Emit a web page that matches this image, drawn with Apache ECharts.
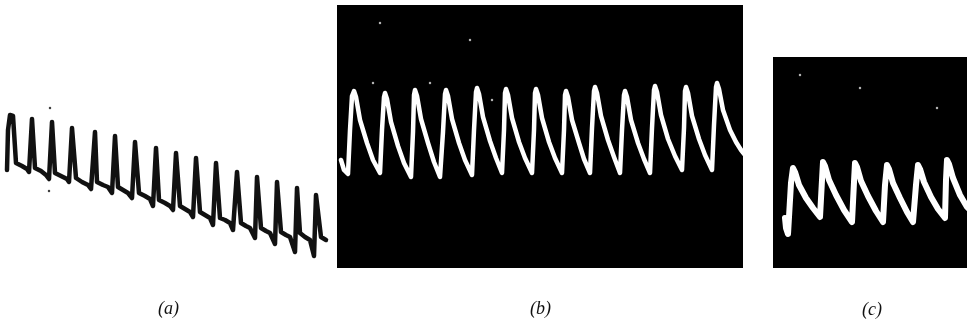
<!DOCTYPE html>
<html>
<head>
<meta charset="utf-8">
<script src="https://cdn.jsdelivr.net/npm/echarts@6/dist/echarts.min.js"></script>
<style>
  html, body { margin: 0; padding: 0; background: #fff; }
  #chart { width: 978px; height: 326px; }
</style>
</head>
<body>
<div id="chart"></div>
<script>
// traces, in picture units (x = time, y = deflection, downward)
const traceA = [
  [7,170],[8,130],[10,115],[13,116],[16,163],[22,166],[27,169],[29,172],
  [32,119],[35,168],[41,171],[46,175],[49,179],
  [52,122],[55,173],[61,176],[67,179],[69,182],
  [72,128],[76,178],[82,182],[88,185],[91,189],
  [95,132],[97,182],[103,185],[108,187],[112,193],
  [115,136],[118,187],[123,190],[128,193],[132,198],
  [135,142],[139,193],[145,196],[150,199],[153,206],
  [156,148],[159,200],[165,203],[170,206],[173,210],
  [176,153],[180,206],[185,209],[190,212],[193,217],
  [196,158],[200,212],[205,215],[210,218],[213,225],
  [216,163],[220,218],[225,220],[230,223],[233,230],
  [237,172],[241,223],[246,226],[250,228],[255,238],
  [257,177],[261,228],[266,231],[270,233],[275,244],
  [277,182],[281,232],[286,235],[290,237],[295,252],
  [297,188],[300,233],[305,237],[310,240],[314,256],
  [316,195],[321,237],[326,240]
];

const traceB = [
  [341,160],[344,170],[348,174],[350,130],[352,96],[354,91],[356,97],[360,120],[367,143],[373,160],[380,173],
  [382,130],[384,97],[385,93],[387,99],[391,122],[398,146],[404,163],[411,177],
  [413,132],[414,95],[415,90],[417,96],[421,119],[428,143],[434,162],[440,177],
  [443,132],[445,94],[446,90],[448,96],[452,119],[459,143],[465,160],[472,175],
  [474,130],[476,92],[477,88],[479,94],[483,117],[490,141],[496,158],[502,173],
  [504,130],[505,93],[506,89],[508,95],[512,118],[519,142],[525,158],[532,173],
  [534,130],[535,93],[536,89],[538,95],[542,118],[549,142],[555,158],[562,173],
  [564,130],[565,95],[566,91],[568,97],[572,120],[579,143],[584,159],[590,173],
  [592,128],[594,91],[595,87],[597,93],[601,116],[608,140],[614,157],[620,173],
  [622,130],[624,95],[625,91],[627,97],[631,120],[638,143],[644,159],[650,173],
  [652,128],[654,90],[655,86],[657,92],[661,115],[668,139],[675,156],[682,170],
  [684,128],[685,91],[686,87],[688,93],[692,116],[699,139],[705,155],[712,170],
  [714,125],[716,87],[717,83],[719,89],[723,110],[730,130],[736,142],[741,150],[745,155]
];

const traceC = [
  [785,218],[786,228],[788,234],[790,200],[791,183],[793,168],[795,172],[799,185],[806,198],[813,208],[820,217],
  [822,180],[823,162],[825,166],[829,180],[836,195],[844,210],[852,222],
  [854,182],[855,163],[857,167],[861,181],[868,196],[876,211],[883,222],
  [885,185],[887,165],[889,169],[893,183],[900,198],[907,212],[913,222],
  [916,185],[918,165],[920,169],[924,182],[931,197],[938,209],[945,218],
  [946,180],[947,160],[949,164],[953,178],[960,195],[967,207],[970,210]
];

// dust on the plates
const specksA = [[50,108],[49,191]];
const specksB = [[373,83],[430,83],[492,100],[380,23],[470,40]];
const specksC = [[800,75],[860,88],[937,108]];

const panelLabels = ["(a)", "(b)", "(c)"];

const chart = echarts.init(document.getElementById("chart"));

function axisPair(idx, xMin, xMax, yMin, yMax) {
  return {
    x: {type: "value", gridIndex: idx, min: xMin, max: xMax, show: false},
    y: {type: "value", gridIndex: idx, min: yMin, max: yMax, inverse: true, show: false},
  }
}

const axA = axisPair(0, 0, 340, 100, 270)
const axB = axisPair(1, 337, 743, 5, 268)
const axC = axisPair(2, 773, 967, 57, 268)

function trace(idx, data, color, width) {
  return {
    type: "line",
    xAxisIndex: idx,
    yAxisIndex: idx,
    data: data,
    symbol: "none",
    silent: true,
    animation: false,
    lineStyle: {color: color, width: width, join: "round", cap: "round"},
  }
}

function specks(idx, data, color) {
  return {
    type: "scatter",
    xAxisIndex: idx,
    yAxisIndex: idx,
    data: data,
    symbolSize: 2.5,
    silent: true,
    animation: false,
    itemStyle: {color: color},
  }
}

const labelFont = "italic 18px 'Liberation Serif'"

chart.setOption({
  backgroundColor: "#fff",
  animation: false,
  grid: [
    {left: 0, top: 100, width: 340, height: 170, show: false},
    {left: 337, top: 5, width: 406, height: 263, show: true, backgroundColor: "#000", borderWidth: 0},
    {left: 773, top: 57, width: 194, height: 211, show: true, backgroundColor: "#000", borderWidth: 0},
  ],
  xAxis: [axA.x, axB.x, axC.x],
  yAxis: [axA.y, axB.y, axC.y],
  series: [
    trace(0, traceA, "#111", 4.5),
    trace(1, traceB, "#fff", 4.5),
    trace(2, traceC, "#fff", 6),
    specks(0, specksA, "#111"),
    specks(1, specksB, "#ddd"),
    specks(2, specksC, "#ddd"),
  ],
  graphic: [
    {type: "text", left: 158, top: 300, style: {text: panelLabels[0], font: labelFont, fill: "#111"}},
    {type: "text", left: 530, top: 300, style: {text: panelLabels[1], font: labelFont, fill: "#111"}},
    {type: "text", left: 862, top: 301, style: {text: panelLabels[2], font: labelFont, fill: "#111"}},
  ],
});
</script>
</body>
</html>
